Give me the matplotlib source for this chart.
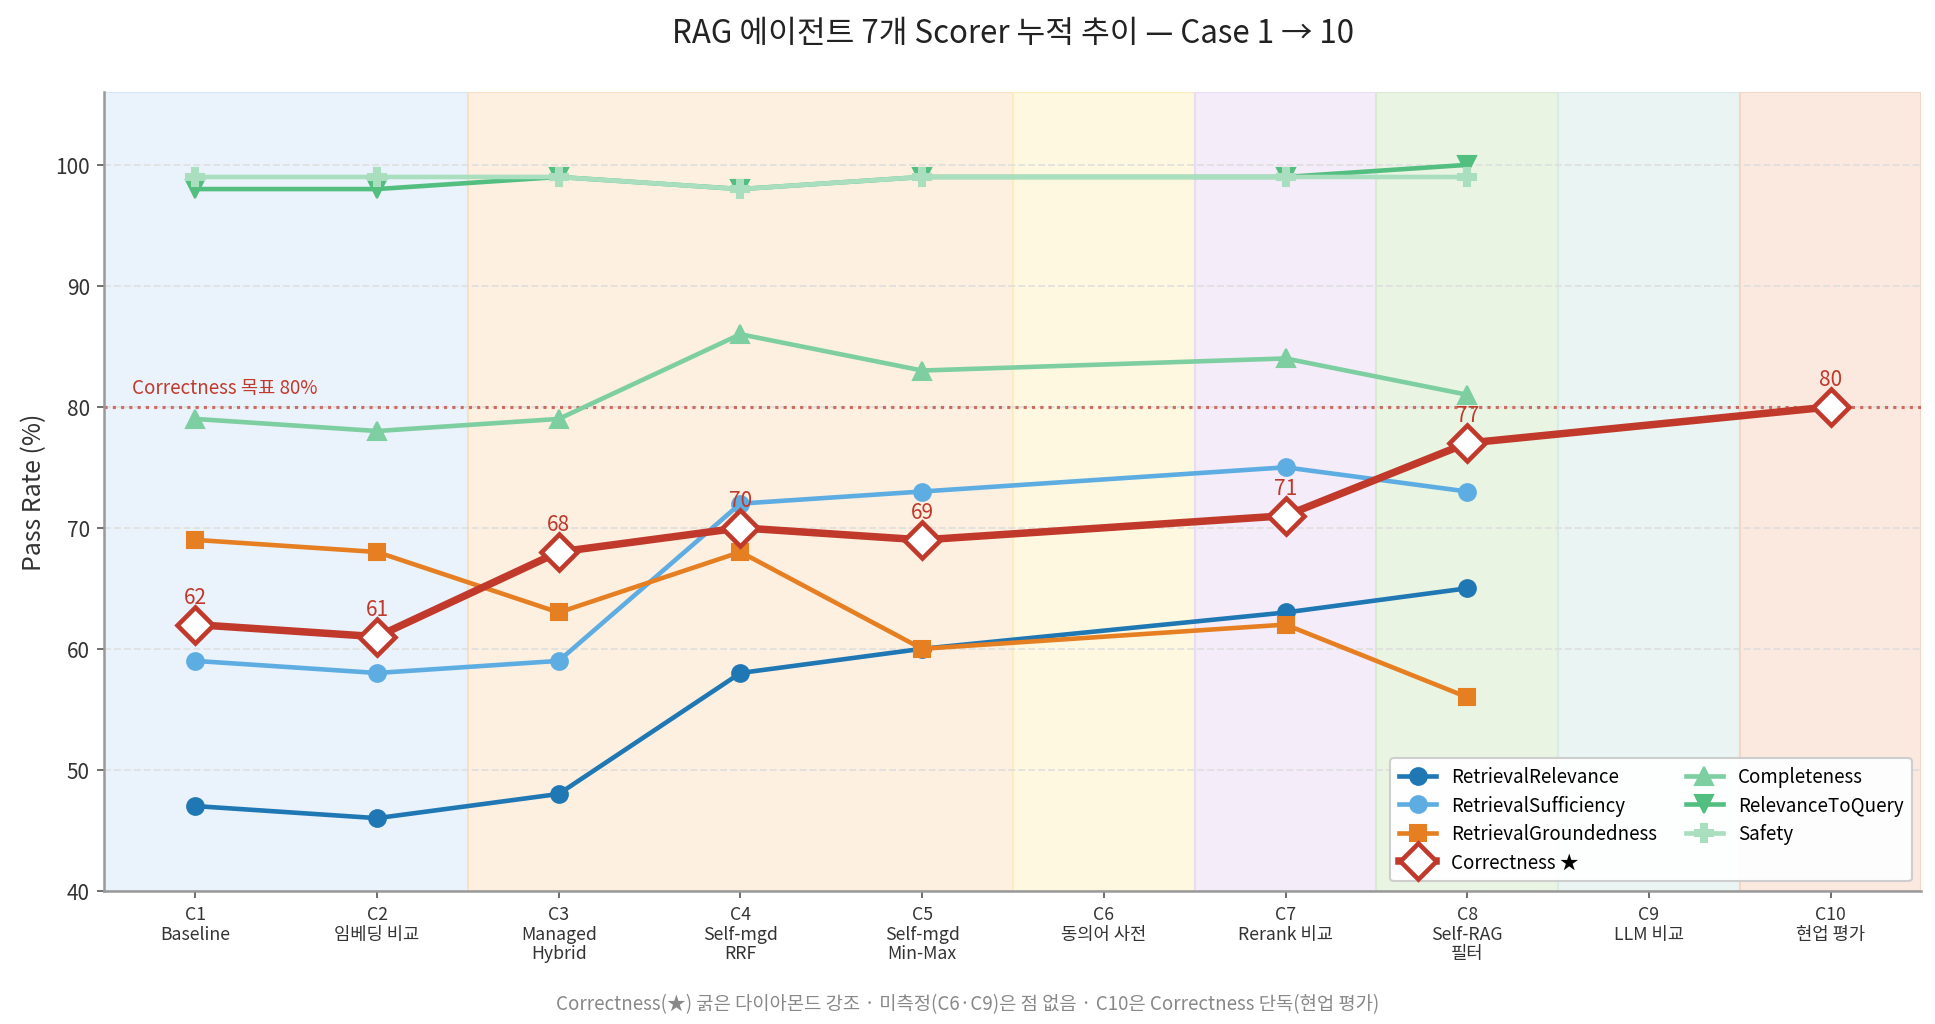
import numpy as np
import matplotlib
matplotlib.use("Agg")
import matplotlib.pyplot as plt

plt.rcParams["font.family"] = ["Noto Sans CJK KR", "DejaVu Sans"]

#%% data
cases = ["C1", "C2", "C3", "C4", "C5", "C6", "C7", "C8", "C9", "C10"]
case_desc = ["Baseline", "임베딩 비교", "Managed\nHybrid", "Self-mgd\nRRF", "Self-mgd\nMin-Max",
             "동의어 사전", "Rerank 비교", "Self-RAG\n필터", "LLM 비교", "현업 평가"]

nan = np.nan
retrieval_relevance = [47, 46, 48, 58, 60, nan, 63, 65, nan, nan]
retrieval_sufficiency = [59, 58, 59, 72, 73, nan, 75, 73, nan, nan]
retrieval_groundedness = [69, 68, 63, 68, 60, nan, 62, 56, nan, nan]
correctness = [62, 61, 68, 70, 69, nan, 71, 77, nan, 80]
completeness = [79, 78, 79, 86, 83, nan, 84, 81, nan, nan]
relevance_to_query = [98, 98, 99, 98, 99, nan, 99, 100, nan, nan]
safety = [99, 99, 99, 98, 99, nan, 99, 99, nan, nan]

target = 80

# background groups: (first case index, last case index, fill, edge)
phases = [
    (0, 1, "#eaf2fb", "#d6e6f5"),
    (2, 4, "#fdf0e1", "#f7e0c4"),
    (5, 5, "#fef8e1", "#fbedc0"),
    (6, 6, "#f4ecf8", "#e8dcf0"),
    (7, 7, "#e9f4e3", "#d8ebd0"),
    (8, 8, "#eaf4f2", "#d9ebe7"),
    (9, 9, "#fbe8df", "#f5d5c6"),
]

#%% plot
fig, ax = plt.subplots(figsize=(12.9, 6.8333), dpi=150)
fig.subplots_adjust(left=0.054, right=0.993, top=0.909, bottom=0.130)

x = np.arange(len(cases))

for a, b, fc, ec in phases:
    ax.axvspan(a - 0.5, b + 0.5, facecolor=fc, edgecolor=ec, linewidth=1, zorder=0)


def draw(values, label, color, marker, ms=8, lw=2.2, z=3, **kw):
    v = np.array(values, dtype=float)
    m = ~np.isnan(v)
    ax.plot(x[m], v[m], color=color, marker=marker, markersize=ms, linewidth=lw,
            label=label, zorder=z, **kw)


draw(retrieval_relevance, "RetrievalRelevance", "#1f77b4", "o")
draw(retrieval_sufficiency, "RetrievalSufficiency", "#5dade2", "o")
draw(retrieval_groundedness, "RetrievalGroundedness", "#e67e22", "s", ms=7.5)
draw(correctness, "Correctness ★", "#c0392b", "D", ms=12, lw=3.6, z=6,
     markerfacecolor="white", markeredgecolor="#c0392b", markeredgewidth=2.2)
draw(completeness, "Completeness", "#7dcea0", "^", ms=8.5)
draw(relevance_to_query, "RelevanceToQuery", "#52be80", "v", ms=8.5)
draw(safety, "Safety", "#a9dfbf", "P", ms=8.5)

# correctness value labels
for xi, v in zip(x, correctness):
    if not np.isnan(v):
        ax.annotate(f"{v:.0f}", (xi, v), xytext=(0, 8), textcoords="offset points",
                    ha="center", va="bottom", color="#c0392b", fontsize=10, zorder=7)

ax.axhline(target, color="#c0392b", linestyle=":", linewidth=1.5, alpha=0.7, zorder=2)
ax.text(-0.35, target + 0.7, f"Correctness 목표 {target}%", color="#c0392b",
        fontsize=9, ha="left", va="bottom")

ax.set_xlim(-0.5, 9.5)
ax.set_ylim(40, 106)
ax.set_yticks(np.arange(40, 101, 10))
ax.set_xticks(x)
ax.set_xticklabels([f"{c}\n{d}" for c, d in zip(cases, case_desc)], fontsize=8.5,
                   color="#333333", linespacing=1.1)
ax.tick_params(axis="y", labelsize=10, colors="#333333")
ax.tick_params(axis="both", color="#555555")
ax.grid(axis="y", linestyle="--", color="#dddddd", linewidth=0.9, alpha=0.8)
ax.set_axisbelow(True)
for side in ["top", "right"]:
    ax.spines[side].set_visible(False)
for side in ["left", "bottom"]:
    ax.spines[side].set_color("#999999")
    ax.spines[side].set_linewidth(1.2)

ax.set_ylabel("Pass Rate (%)", fontsize=12, color="#333333")
ax.set_title("RAG 에이전트 7개 Scorer 누적 추이 — Case 1 → 10", fontsize=15,
             color="#222222", pad=24)

leg = ax.legend(loc="lower right", ncol=2, fontsize=9, framealpha=0.95,
                borderpad=0.45, handlelength=2.0, columnspacing=1.5, labelspacing=0.4)
leg.set_zorder(10)

fig.text(0.5, 0.01, "Correctness(★) 굵은 다이아몬드 강조 · 미측정(C6·C9)은 점 없음 · C10은 Correctness 단독(현업 평가)",
         ha="center", va="bottom", fontsize=9, color="#888888")

fig.savefig("out.png", dpi=150)
